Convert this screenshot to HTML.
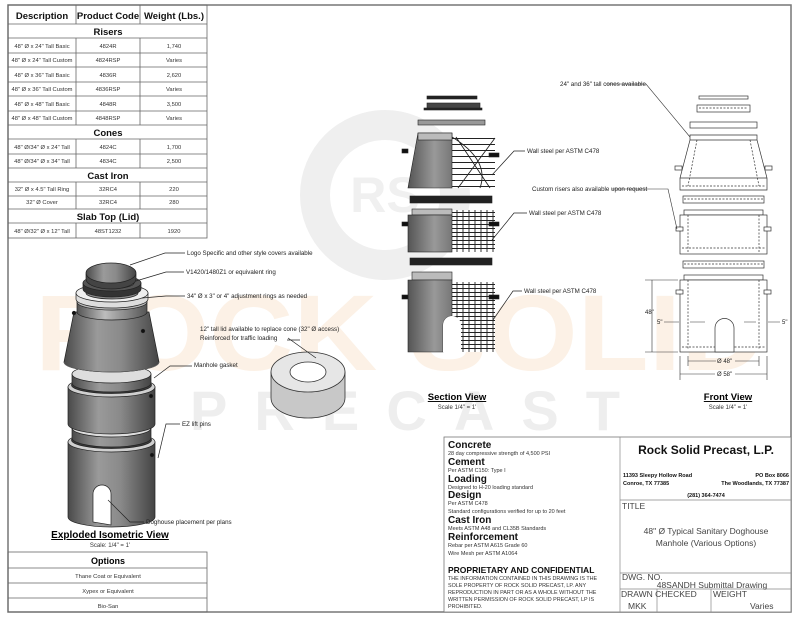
<!DOCTYPE html>
<html><head><meta charset="utf-8"><style>
html,body{margin:0;padding:0;background:#fff;}
svg{display:block;font-family:"Liberation Sans",sans-serif;}
</style></head><body>
<svg width="800" height="618" viewBox="0 0 800 618" xmlns="http://www.w3.org/2000/svg">
<defs>
<linearGradient id="cyl" x1="0" x2="1" y1="0" y2="0">
<stop offset="0" stop-color="#4a4a4a"/><stop offset="0.35" stop-color="#9a9a9a"/><stop offset="0.6" stop-color="#8a8a8a"/><stop offset="1" stop-color="#444"/></linearGradient>
<linearGradient id="cyl2" x1="0" x2="1" y1="0" y2="0">
<stop offset="0" stop-color="#555"/><stop offset="0.4" stop-color="#bdbdbd"/><stop offset="1" stop-color="#555"/></linearGradient>
<linearGradient id="sec" x1="0" x2="1" y1="0" y2="0">
<stop offset="0" stop-color="#555"/><stop offset="0.6" stop-color="#999"/><stop offset="1" stop-color="#777"/></linearGradient>
<pattern id="mesh" width="6" height="4" patternUnits="userSpaceOnUse"><rect width="6" height="4" fill="#fff"/><path d="M0 0.5H6M1 0V4" stroke="#222" stroke-width="0.9"/></pattern>
<pattern id="mesh2" width="8" height="6" patternUnits="userSpaceOnUse"><rect width="8" height="6" fill="#fff"/><path d="M0 0.5H8" stroke="#222" stroke-width="1"/></pattern>
</defs>
<rect width="800" height="618" fill="#fff"/>
<!-- watermark -->
<circle cx="385" cy="195" r="85" fill="#efefef"/>
<circle cx="385" cy="195" r="55" fill="#fff"/>
<text x="385" y="212" text-anchor="middle" font-size="50" font-weight="bold" fill="#f0f0f0">RS</text>
<text x="400" y="370" text-anchor="middle" font-size="108" font-weight="bold" fill="#fcf1e6" textLength="730" lengthAdjust="spacingAndGlyphs">ROCK SOLID</text>
<text x="405" y="430" text-anchor="middle" font-size="56" font-weight="bold" fill="#eeeeee" textLength="430" lengthAdjust="spacing">PRECAST</text>
<!-- border -->
<rect x="8" y="5" width="783" height="607" fill="none" stroke="#777" stroke-width="1.5"/>
<!-- product table -->
<g stroke="#666" stroke-width="0.8" fill="none">
<rect x="8" y="5" width="199" height="233"/>
<path d="M8 24H207M8 38H207M8 53H207M8 67H207M8 82H207M8 96H207M8 111H207M8 125H207M8 139H207M8 154H207M8 168H207M8 182H207M8 196H207M8 209H207M8 223H207"/>
<path d="M76 5V24M140 5V24M76 38V125M140 38V125M76 139V168M140 139V168M76 182V209M140 182V209M76 223V238M140 223V238"/>
</g>
<g font-size="9.5" font-weight="bold" text-anchor="middle" fill="#111">
<text x="42" y="19">Description</text><text x="108" y="19">Product Code</text><text x="174" y="19">Weight (Lbs.)</text>
<text x="108" y="35">Risers</text><text x="108" y="136">Cones</text><text x="108" y="179">Cast Iron</text><text x="108" y="220">Slab Top (Lid)</text>
</g>
<g font-size="5.8" text-anchor="middle" fill="#333">
<text x="42" y="48">48" Ø x 24" Tall Basic</text><text x="108" y="48">4824R</text><text x="174" y="48">1,740</text>
<text x="42" y="62">48" Ø x 24" Tall Custom</text><text x="108" y="62">4824RSP</text><text x="174" y="62">Varies</text>
<text x="42" y="77">48" Ø x 36" Tall Basic</text><text x="108" y="77">4836R</text><text x="174" y="77">2,620</text>
<text x="42" y="91">48" Ø x 36" Tall Custom</text><text x="108" y="91">4836RSP</text><text x="174" y="91">Varies</text>
<text x="42" y="106">48" Ø x 48" Tall Basic</text><text x="108" y="106">4848R</text><text x="174" y="106">3,500</text>
<text x="42" y="120">48" Ø x 48" Tall Custom</text><text x="108" y="120">4848RSP</text><text x="174" y="120">Varies</text>
<text x="42" y="149">48" Ø/34" Ø x 24" Tall</text><text x="108" y="149">4824C</text><text x="174" y="149">1,700</text>
<text x="42" y="163">48" Ø/34" Ø x 34" Tall</text><text x="108" y="163">4834C</text><text x="174" y="163">2,500</text>
<text x="42" y="191">32" Ø x 4.5" Tall Ring</text><text x="108" y="191">32RC4</text><text x="174" y="191">220</text>
<text x="42" y="204">32" Ø Cover</text><text x="108" y="204">32RC4</text><text x="174" y="204">280</text>
<text x="42" y="233">48" Ø/32" Ø x 12" Tall</text><text x="108" y="233">48ST1232</text><text x="174" y="233">1920</text>
</g>
<!-- isometric -->
<g stroke="#222" stroke-width="0.7">
<path d="M68 442V517A43.5 10 0 0 0 155 517V442Z" fill="url(#cyl)"/>
<path d="M93 522V494A9 9 0 0 1 111 494V525Z" fill="#fff"/>
<ellipse cx="111.5" cy="442" rx="43.5" ry="10" fill="#cfcfcf"/>
<ellipse cx="111.5" cy="440" rx="40" ry="8.5" fill="#3a3a3a"/>
<path d="M72 428V438A39.5 9 0 0 0 151 438V428Z" fill="url(#cyl)"/>
<ellipse cx="111.5" cy="428" rx="39.5" ry="9" fill="#ddd"/>
<path d="M68 387V424A43.5 10 0 0 0 155 424V387Z" fill="url(#cyl)"/>
<ellipse cx="111.5" cy="387" rx="43.5" ry="10" fill="#cfcfcf"/>
<ellipse cx="111.5" cy="385" rx="40" ry="8.5" fill="#3a3a3a"/>
<path d="M72 374V383A39.5 9 0 0 0 151 383V374Z" fill="url(#cyl)"/>
<ellipse cx="111.5" cy="374" rx="39.5" ry="9" fill="#ddd"/>
<path d="M74 312L64 362A47.5 10 0 0 0 159 362L149 312Z" fill="url(#cyl)"/>
<path d="M64 362A47.5 10 0 0 0 159 362" fill="none" stroke="#666"/>
<path d="M77 302V312A35 8 0 0 0 147 312V302Z" fill="url(#cyl2)"/>
<ellipse cx="112" cy="302" rx="35" ry="8" fill="#bbb"/>
<path d="M76 293V299A36 9 0 0 0 148 299V293Z" fill="#ddd"/>
<ellipse cx="112" cy="293" rx="36" ry="9" fill="#eee"/>
<ellipse cx="112" cy="293" rx="26" ry="6" fill="#888"/>
<path d="M83 283V289A29 8 0 0 0 141 289V283Z" fill="#333"/>
<ellipse cx="112" cy="283" rx="29" ry="8" fill="#555"/>
<ellipse cx="112" cy="283" rx="22" ry="5.5" fill="#ccc"/>
<path d="M86 274V279A25 10 0 0 0 136 279V274Z" fill="#444"/>
<ellipse cx="111" cy="273" rx="25" ry="10" fill="url(#cyl)"/>
<circle cx="74" cy="313" r="1.8" fill="#111"/><circle cx="143" cy="331" r="1.8" fill="#111"/>
<circle cx="151" cy="396" r="1.8" fill="#111"/><circle cx="152" cy="455" r="1.8" fill="#111"/>
</g>
<g stroke="#333" stroke-width="0.8">
<path d="M271 372V398A37 20 0 0 0 345 398V372Z" fill="#c8c8c8"/>
<ellipse cx="308" cy="372" rx="37" ry="20" fill="#e6e6e6"/>
<ellipse cx="308" cy="372" rx="18" ry="10" fill="#fff"/>
</g>
<g stroke="#222" stroke-width="0.7" fill="none">
<path d="M130 265L165 253H185"/><path d="M136 281L166 272H184"/><path d="M142 298L166 296H185"/>
<path d="M154 378L170 366H192"/><path d="M158 458L166 424H180"/><path d="M108 500L130 522H144"/>
<path d="M300 340H287M288 338L316 358"/>
</g>
<g font-size="6.2" fill="#222">
<text x="187" y="255">Logo Specific and other style covers available</text>
<text x="186" y="274">V1420/1480Z1 or equivalent ring</text>
<text x="187" y="298">34" Ø x 3" or 4" adjustment rings as needed</text>
<text x="194" y="367">Manhole gasket</text>
<text x="182" y="426">EZ lift pins</text>
<text x="146" y="524">Doghouse placement per plans</text>
<text x="200" y="331">12" tall lid available to replace cone (32" Ø access)</text>
<text x="200" y="340">Reinforced for traffic loading</text>
</g>
<text x="110" y="538" font-size="10" font-weight="bold" text-anchor="middle" text-decoration="underline">Exploded Isometric View</text>
<text x="110" y="547" font-size="6" text-anchor="middle" fill="#333">Scale: 1/4" = 1'</text>
<g stroke="#666" stroke-width="0.8" fill="none"><rect x="8" y="552" width="199" height="60"/><path d="M8 568H207M8 583H207M8 598H207"/></g>
<text x="108" y="564" font-size="9" font-weight="bold" text-anchor="middle">Options</text>
<g font-size="5.8" text-anchor="middle" fill="#333"><text x="108" y="578">Thane Coat or Equivalent</text><text x="108" y="593">Xypex or Equivalent</text><text x="108" y="608">Bio-San</text></g>
<!-- section view -->
<g stroke="#222" stroke-width="0.6">
<rect x="427" y="96" width="50" height="3" fill="#222"/>
<rect x="427" y="103" width="53" height="6" fill="#444"/><rect x="424" y="108" width="58" height="2" fill="#222"/>
<rect x="418" y="120" width="67" height="5" fill="#999"/>
<rect x="452" y="135" width="43" height="53" fill="url(#mesh2)" stroke="none"/>
<path d="M456 137L490 188M495 138L458 188M452 137Q490 160 480 188" fill="none" stroke="#222" stroke-width="0.9"/>
<path d="M418 133L408 188H452V133Z" fill="url(#sec)"/>
<rect x="418" y="133" width="34" height="7" fill="#bbb"/>
<rect x="410" y="196" width="82" height="7" fill="#222"/>
<rect x="452" y="210" width="43" height="42" fill="url(#mesh)" stroke="none"/>
<rect x="412" y="209" width="40" height="6" fill="#bbb"/>
<rect x="408" y="215" width="44" height="37" fill="url(#sec)"/>
<rect x="410" y="258" width="82" height="7" fill="#222"/>
<rect x="452" y="282" width="43" height="70" fill="url(#mesh)" stroke="none"/>
<rect x="412" y="272" width="40" height="8" fill="#bbb"/>
<path d="M408 280V352H443V325A9 9 0 0 1 452 316V280Z" fill="url(#sec)"/>
<path d="M443 352V325A9 9 0 0 1 461 325V352Z" fill="#fff" stroke="none"/>
<rect x="402" y="149" width="6" height="4" fill="#111"/><rect x="489" y="153" width="10" height="4" fill="#111"/>
<rect x="402" y="222" width="6" height="4" fill="#111"/><rect x="489" y="222" width="10" height="4" fill="#111"/>
<rect x="402" y="295" width="6" height="4" fill="#111"/><rect x="489" y="295" width="10" height="4" fill="#111"/>
</g>
<g stroke="#222" stroke-width="0.7" fill="none"><path d="M492 175L514 151H525"/><path d="M492 240L514 213H527"/><path d="M493 320L513 291H522"/></g>
<g font-size="6.2" fill="#222"><text x="527" y="153">Wall steel per ASTM C478</text><text x="529" y="215">Wall steel per ASTM C478</text><text x="524" y="293">Wall steel per ASTM C478</text></g>
<text x="457" y="400" font-size="9.5" font-weight="bold" text-anchor="middle" text-decoration="underline">Section View</text>
<text x="457" y="409" font-size="6" text-anchor="middle" fill="#333">Scale 1/4" = 1'</text>
<!-- front view -->
<g stroke="#333" stroke-width="0.7" fill="#fff">
<rect x="699" y="96" width="49" height="3"/>
<rect x="697" y="105" width="53" height="7"/><path d="M699 108H748" stroke-dasharray="2 1.5"/>
<rect x="690" y="122" width="67" height="6"/>
<path d="M690 135H757V140L767 178V190H680V178L690 140Z"/><path d="M690 140H757M680 178H767"/>
<path d="M697 140L688 186M750 140L759 186M682 186H765" stroke-dasharray="2 1.5" fill="none"/>
<rect x="683" y="196" width="81" height="7"/><path d="M684 199H763" stroke-dasharray="2 1.5"/>
<rect x="684" y="210" width="79" height="5"/><rect x="680" y="215" width="87" height="39"/>
<path d="M688 215V252M759 215V252M682 248H765" stroke-dasharray="2 1.5" fill="none"/>
<rect x="683" y="261" width="81" height="7"/><path d="M684 264H763" stroke-dasharray="2 1.5"/>
<rect x="684" y="275" width="79" height="5"/><rect x="680" y="280" width="87" height="72"/>
<path d="M688 280V350M759 280V350M682 347H765" stroke-dasharray="2 1.5" fill="none"/>
<path d="M715 352V328A9.5 9.5 0 0 1 734 328V352Z"/>
<rect x="675" y="166" width="7" height="4"/><rect x="765" y="166" width="7" height="4"/>
<rect x="676" y="227" width="7" height="4"/><rect x="764" y="227" width="7" height="4"/>
<rect x="676" y="290" width="7" height="4"/><rect x="764" y="290" width="7" height="4"/>
</g>
<g stroke="#333" stroke-width="0.6" fill="none">
<path d="M645 280H678M645 352H678M652 280V352"/>
<path d="M664 322H679M705 322H690M768 322H780M744 322H756"/>
<path d="M688 356V366M759 356V366M680 356V380M767 356V380M688 361H716M735 361H759M680 374H715M735 374H767"/>
<path d="M606 84H646L690 137"/><path d="M612 189H668L677 229"/>
</g>
<g font-size="6" fill="#222">
<text x="645" y="314">48"</text><text x="657" y="324">5"</text><text x="782" y="324">5"</text>
<text x="717" y="363">Ø 48"</text><text x="717" y="376">Ø 58"</text>
<text x="560" y="86" font-size="6.2">24" and 36" tall cones available</text>
<text x="532" y="191" font-size="6.2">Custom risers also available upon request</text>
</g>
<text x="728" y="400" font-size="9.5" font-weight="bold" text-anchor="middle" text-decoration="underline">Front View</text>
<text x="728" y="409" font-size="6" text-anchor="middle" fill="#333">Scale 1/4" = 1'</text>
<!-- title block -->
<rect x="444" y="437" width="347" height="175" fill="#fff" stroke="#777" stroke-width="0.8"/>
<g stroke="#888" stroke-width="0.7" fill="none"><path d="M620 437V612M620 500H791M620 573H791M620 589H791M657 589V612M711 589V612"/></g>
<g fill="#111">
<g font-size="10" font-weight="bold"><text x="448" y="448">Concrete</text><text x="448" y="465">Cement</text><text x="448" y="482">Loading</text><text x="448" y="498">Design</text><text x="448" y="523">Cast Iron</text><text x="448" y="540">Reinforcement</text></g>
<g font-size="5.5" fill="#333"><text x="448" y="455">28 day compressive strength of 4,500 PSI</text><text x="448" y="472">Per ASTM C150: Type I</text><text x="448" y="489">Designed to H-20 loading standard</text><text x="448" y="505">Per ASTM C478</text><text x="448" y="513">Standard configurations verified for up to 20 feet</text><text x="448" y="530">Meets ASTM A48 and CL35B Standards</text><text x="448" y="547">Rebar per ASTM A615 Grade 60</text><text x="448" y="555">Wire Mesh per ASTM A1064</text></g>
<text x="448" y="573" font-size="8.5" font-weight="bold">PROPRIETARY AND CONFIDENTIAL</text>
<g font-size="5.4" fill="#333"><text x="448" y="580">THE INFORMATION CONTAINED IN THIS DRAWING IS THE</text><text x="448" y="587">SOLE PROPERTY OF ROCK SOLID PRECAST, LP.  ANY</text><text x="448" y="594">REPRODUCTION IN PART OR AS A WHOLE WITHOUT THE</text><text x="448" y="601">WRITTEN PERMISSION OF ROCK SOLID PRECAST, LP IS</text><text x="448" y="608">PROHIBITED.</text></g>
<text x="706" y="454" font-size="12" font-weight="bold" text-anchor="middle">Rock Solid Precast, L.P.</text>
<g font-size="5.5" font-weight="bold"><text x="623" y="477">11393 Sleepy Hollow Road</text><text x="623" y="485">Conroe, TX 77385</text><text x="789" y="477" text-anchor="end">PO Box 8066</text><text x="789" y="485" text-anchor="end">The Woodlands, TX 77387</text><text x="706" y="497" text-anchor="middle">(281) 364-7474</text></g>
<g font-size="8.5" fill="#444"><text x="622" y="509">TITLE</text><text x="706" y="534" text-anchor="middle">48" Ø Typical Sanitary Doghouse</text><text x="706" y="546" text-anchor="middle">Manhole (Various Options)</text>
<text x="622" y="580">DWG.  NO.</text><text x="712" y="588" text-anchor="middle">48SANDH Submittal Drawing</text>
<text x="621" y="597">DRAWN CHECKED</text><text x="713" y="597">WEIGHT</text><text x="628" y="609">MKK</text><text x="750" y="609">Varies</text></g>
</g>
</svg>
</body></html>
